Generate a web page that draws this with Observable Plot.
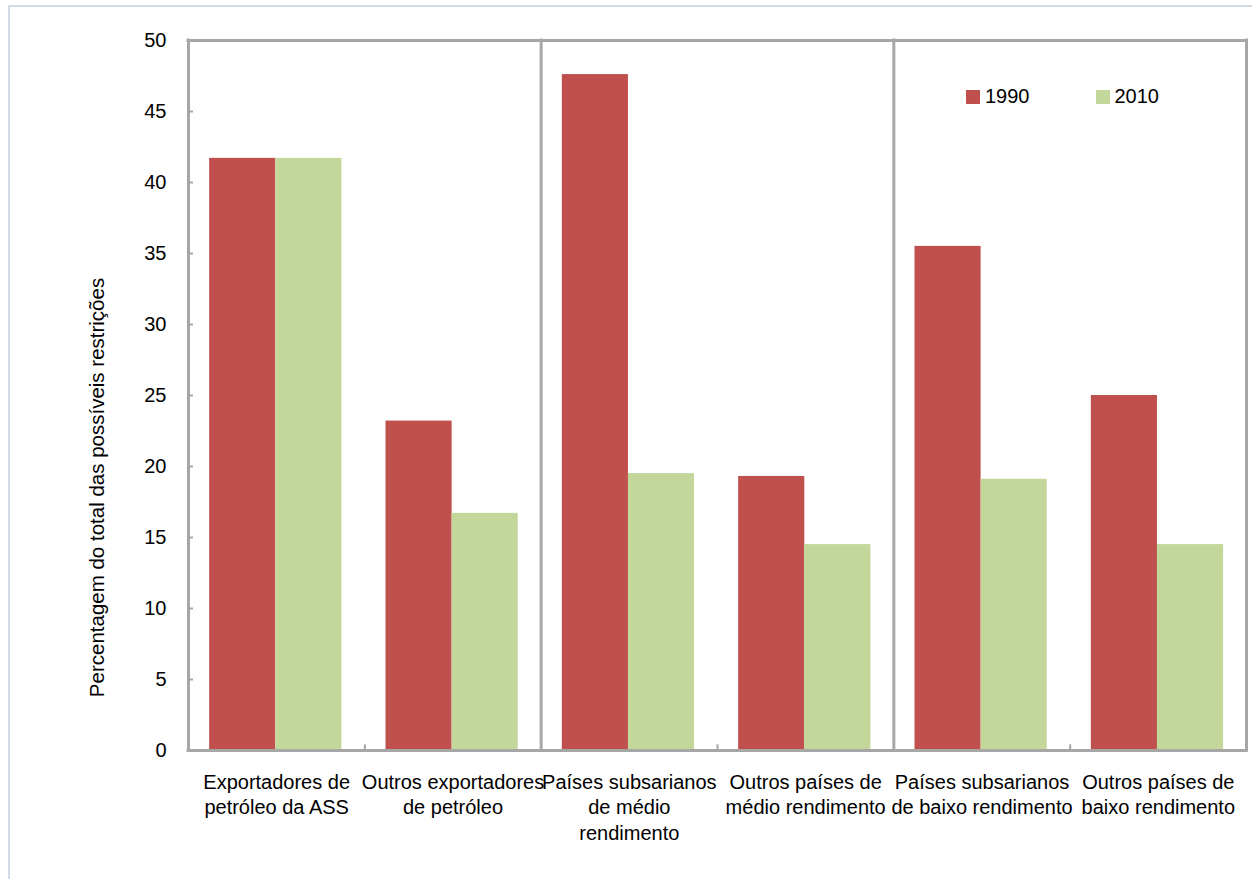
<!DOCTYPE html>
<html>
<head>
<meta charset="utf-8">
<script src="https://cdn.jsdelivr.net/npm/d3@7"></script>
<script src="https://cdn.jsdelivr.net/npm/@observablehq/plot@0.6"></script>
<style>
html,body{margin:0;padding:0;background:#fff;overflow:hidden;width:1252px;height:879px}
#wrap{position:relative;width:1252px;height:879px;font-family:"Liberation Sans",Arial,sans-serif;color:#000}
#border{position:absolute;left:8px;top:5px;width:1300px;height:1000px;border:2px solid #d2dae6;box-sizing:border-box}
#chart{position:absolute;left:0;top:0}
#legend{position:absolute;left:966px;top:85px}
#legend .lg-swatches{font-family:"Liberation Sans",Arial,sans-serif !important;font-size:20px !important;color:#000 !important;margin:0 !important;min-height:0 !important}
#legend .lg-swatch{margin-right:66px !important}
#legend .lg-swatch > svg{margin-right:5px !important}
</style>
</head>
<body>
<div id="wrap">
  <div id="border"></div>
  <div id="chart"></div>
  <div id="legend"></div>
</div>
<script>
// ---- data ----
const categories = [
  "Exportadores de\npetróleo da ASS",
  "Outros exportadores\nde petróleo",
  "Países subsarianos\nde médio\nrendimento",
  "Outros países de\nmédio rendimento",
  "Países subsarianos\nde baixo rendimento",
  "Outros países de\nbaixo rendimento"
];
const years = ["1990", "2010"];
const values1990 = [41.7, 23.2, 47.6, 19.3, 35.5, 25.0];
const values2010 = [41.7, 16.7, 19.5, 14.5, 19.1, 14.5];
const yTicks = [0, 5, 10, 15, 20, 25, 30, 35, 40, 45, 50];
const yLabel = "Percentagem do total das possíveis restrições";
const colors = ["#c0504d", "#c4d79b"];

// ---- build table ----
const barStart = 0.12, barWidth = 0.375;
const rows = [];
categories.forEach((c, i) => {
  [values1990, values2010].forEach((vals, j) => {
    rows.push({cat: c, year: years[j], value: vals[i],
      x1: i + barStart + j * barWidth, x2: i + barStart + (j + 1) * barWidth});
  });
});
const groupBounds = [0, 2, 4, 6];
const minorBounds = [1, 3, 5];
const gray = "#a6a6a6";

const chart = Plot.plot({
  width: 1252,
  height: 879,
  marginLeft: 188,
  marginRight: 6,
  marginTop: 40,
  marginBottom: 129,
  style: {fontFamily: "Liberation Sans, Arial, sans-serif", fontSize: "20px", color: "#000", background: "transparent", overflow: "visible"},
  x: {domain: [0, categories.length]},
  y: {domain: [0, 50]},
  color: {domain: years, range: colors},
  marks: [
    Plot.rectY(rows, {x1: "x1", x2: "x2", y: "value", fill: "year"}),
    Plot.ruleY([0, 50], {stroke: gray, strokeWidth: 3, strokeLinecap: "square"}),
    Plot.ruleX(groupBounds, {stroke: gray, strokeWidth: 3, strokeLinecap: "square"}),
    Plot.ruleX(minorBounds, {y1: 0, y2: 0.4, stroke: gray, strokeWidth: 2}),
    Plot.axisY({ticks: yTicks, tickSize: -5, tickPadding: 27, stroke: gray, strokeWidth: 2, fill: "#000", fontSize: 20, label: null}),
    Plot.axisX({ticks: categories.map((c, i) => i + 0.5), tickFormat: d => categories[Math.floor(d)],
      tickSize: 0, tickPadding: 20, fontSize: 20, lineHeight: 1.28, fill: "#000", label: null}),
    Plot.text([yLabel], {text: d => d, frameAnchor: "left", textAnchor: "middle", rotate: -90, dx: -91, dy: 92, fontSize: 20.5, fill: "#000"})
  ]
});
document.getElementById("chart").appendChild(chart);

const legend = Plot.legend({
  color: {domain: years, range: colors},
  legend: "swatches",
  swatchSize: 14,
  className: "lg"
});
document.getElementById("legend").appendChild(legend);
</script>
</body>
</html>
